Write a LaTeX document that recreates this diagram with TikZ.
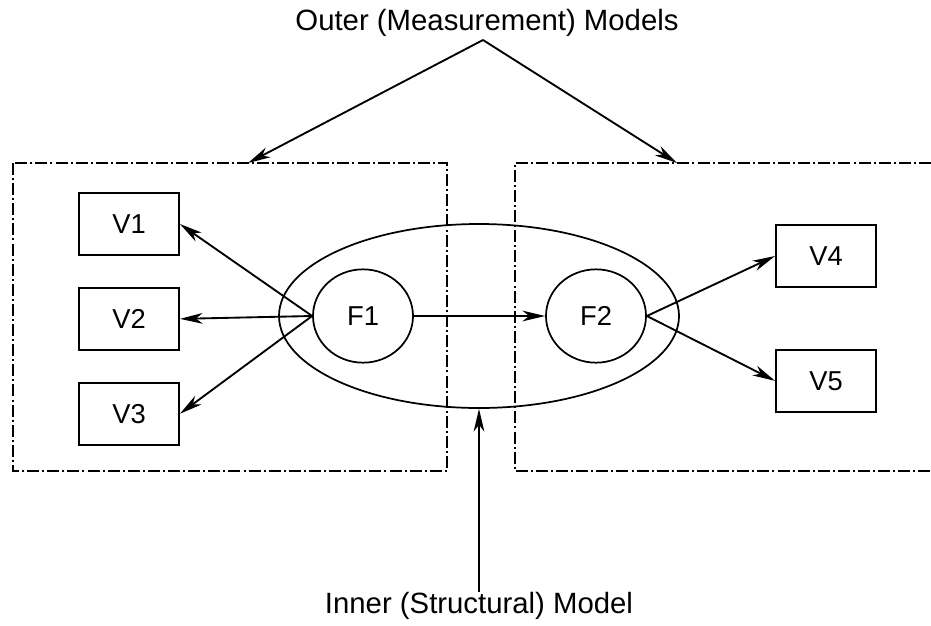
\documentclass[tikz,border=0pt]{standalone}
\usepackage{fontspec}
\setmainfont{Liberation Sans}
\usetikzlibrary{shapes.geometric, arrows.meta, positioning}

\begin{document}
\begin{tikzpicture}[x=0.75pt, y=-0.75pt, node distance=23.25pt,
  var/.style={draw, line width=1.4pt, minimum width=75pt, minimum height=46.5pt, inner sep=0pt, font=\fontsize{20.5}{22}\selectfont},
  factor/.style={draw, ellipse, line width=1.3pt, minimum width=75pt, minimum height=70pt, inner sep=0pt, font=\fontsize{20.5}{22}\selectfont},
  conn/.style={-{Stealth[length=17pt, width=8pt, inset=5pt]}, line width=1.4pt},
  region/.style={line width=1.3pt, dash pattern=on 9pt off 2.3pt on 1.5pt off 2.3pt},
  caption/.style={font=\fontsize{22}{24}\selectfont, inner sep=0pt}]
  \useasboundingbox (0,0) rectangle (931,625);

  % outer (measurement) regions
  \draw[region] (13,163) rectangle (447,471);
  \draw[region] (931,163) -- (515,163) -- (515,471) -- (931,471);

  % inner model and factors
  \node (structural) [draw, ellipse, line width=1.3pt, inner sep=0pt, minimum width=300pt, minimum height=138pt] at (479,316) {};
  \node (F1) [factor] at (363,316) {F1};
  \node (F2) [factor] at (596,316) {F2};

  % indicators
  \node (V1) [var] at (129,224) {V1};
  \node (V2) [var, below=of V1] {V2};
  \node (V3) [var, below=of V2] {V3};
  \node (V4) [var] at (826,256) {V4};
  \node (V5) [var, below=45.75pt of V4] {V5};

  \draw[conn] (F1.west) -- (V1.east);
  \draw[conn] (F1.west) -- (V2.east);
  \draw[conn] (F1.west) -- (V3.east);
  \draw[conn] (F1) -- (F2);
  \draw[conn] (F2.east) -- (V4.west);
  \draw[conn] (F2.east) -- (V5.west);

  % labels
  \node (outerlabel) [caption] at (487,23) {Outer (Measurement) Models};
  \coordinate (apex) at (483,40);
  \coordinate (lefttop) at (248,163);
  \coordinate (righttop) at (677,163);
  \draw[conn] (apex) -- (lefttop);
  \draw[conn] (apex) -- (righttop);

  \node (innerlabel) [caption] at (479,606) {Inner (Structural) Model};
  \draw[conn] (innerlabel.north) -- (structural.south);
\end{tikzpicture}
\end{document}
